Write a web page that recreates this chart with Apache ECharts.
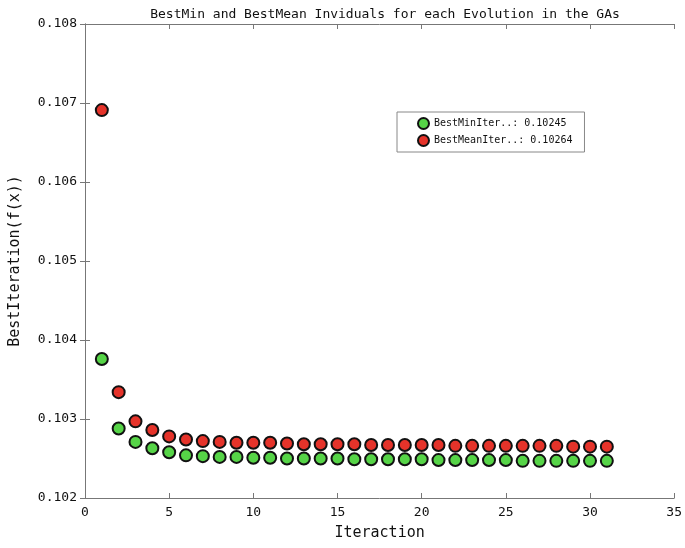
<!DOCTYPE html>
<html>
<head>
<meta charset="utf-8">
<script src="https://cdn.jsdelivr.net/npm/echarts@6/dist/echarts.min.js"></script>
<style>
  html, body { margin: 0; padding: 0; background: #fff; }
  #chart { width: 685px; height: 548px; }
</style>
</head>
<body>
<div id="chart"></div>
<script>
/* BestMin / BestMean per iteration, scatter */

const iterations = [1, 2, 3, 4, 5, 6, 7, 8, 9, 10, 11, 12, 13, 14, 15, 16,
    17, 18, 19, 20, 21, 22, 23, 24, 25, 26, 27, 28, 29, 30, 31];

const bestMean = [0.10691, 0.10334, 0.10297, 0.10286, 0.10278, 0.10274, 0.10272,
    0.10271, 0.10270, 0.10270, 0.10270, 0.10269, 0.10268, 0.10268, 0.10268, 0.10268,
    0.10267, 0.10267, 0.10267, 0.10267, 0.10267, 0.10266, 0.10266, 0.10266, 0.10266,
    0.10266, 0.10266, 0.10266, 0.10265, 0.10265, 0.10265];

const bestMin = [0.10376, 0.10288, 0.10271, 0.10263, 0.10258, 0.10254, 0.10253,
    0.10252, 0.10252, 0.10251, 0.10251, 0.10250, 0.10250, 0.10250, 0.10250, 0.10249,
    0.10249, 0.10249, 0.10249, 0.10249, 0.10248, 0.10248, 0.10248, 0.10248, 0.10248,
    0.10247, 0.10247, 0.10247, 0.10247, 0.10247, 0.10247];

const legendNames = ['BestMinIter..: 0.10245', 'BestMeanIter..: 0.10264'];

const mono = 'DejaVu Sans Mono';

function pairs(xs, ys) {
    let out = [];
    for (let i = 0; i < xs.length; i++) {
        out.push([xs[i], ys[i]]);
    }
    return out;
}

let axisLine = { show: true, lineStyle: { color: '#777', width: 1 } };
let axisTick = { show: true, inside: true, length: 5, lineStyle: { color: '#777' } };

let option = {
    backgroundColor: '#fff',
    animation: false,
    title: {
        text: 'BestMin and BestMean Inviduals for each Evolution in the GAs',
        left: 380,
        textAlign: 'center',
        top: 3,
        textStyle: { fontFamily: mono, fontSize: 13, fontWeight: 'normal', color: '#111' }
    },
    legend: {
        orient: 'vertical',
        left: 397,
        top: 112,
        width: 191,
        padding: [5, 12, 5, 20],
        itemGap: 4,
        itemWidth: 11,
        itemHeight: 11,
        borderColor: '#888',
        borderWidth: 1,
        icon: 'circle',
        data: legendNames,
        textStyle: { fontFamily: mono, fontSize: 10, color: '#111' }
    },
    grid: { left: 82, right: 7, top: 24, bottom: 50 },
    xAxis: [{
        type: 'value',
        min: 0,
        max: 35,
        interval: 5,
        name: 'Iteraction',
        nameLocation: 'middle',
        nameGap: 28,
        nameTextStyle: { fontFamily: mono, fontSize: 15, color: '#111' },
        axisLine: axisLine,
        axisTick: axisTick,
        axisLabel: { fontFamily: mono, fontSize: 13, color: '#111', margin: 8 },
        splitLine: { show: false }
    }, {
        type: 'value',
        position: 'top',
        min: 0,
        max: 35,
        interval: 5,
        axisLine: axisLine,
        axisTick: axisTick,
        axisLabel: { show: false },
        splitLine: { show: false }
    }],
    yAxis: [{
        type: 'value',
        min: 0.102,
        max: 0.108,
        interval: 0.001,
        name: 'BestIteration(f(x))',
        nameLocation: 'middle',
        nameGap: 62,
        nameTextStyle: { fontFamily: mono, fontSize: 15, color: '#111' },
        axisLine: axisLine,
        axisTick: axisTick,
        axisLabel: {
            fontFamily: mono, fontSize: 13, color: '#111', margin: 8,
            formatter: v => v.toFixed(3)
        },
        splitLine: { show: false }
    }, {
        type: 'value',
        position: 'right',
        min: 0.102,
        max: 0.108,
        interval: 0.001,
        axisLine: axisLine,
        axisTick: axisTick,
        axisLabel: { show: false },
        splitLine: { show: false }
    }],
    series: [{
        type: 'scatter',
        name: legendNames[0],
        data: pairs(iterations, bestMin),
        symbolSize: 12,
        itemStyle: { color: '#56d447', borderColor: '#111', borderWidth: 2, opacity: 1 }
    }, {
        type: 'scatter',
        name: legendNames[1],
        data: pairs(iterations, bestMean),
        symbolSize: 12,
        itemStyle: { color: '#e5332a', borderColor: '#111', borderWidth: 2, opacity: 1 }
    }]
};

let chart = echarts.init(document.getElementById('chart'));
chart.setOption(option);
</script>
</body>
</html>
